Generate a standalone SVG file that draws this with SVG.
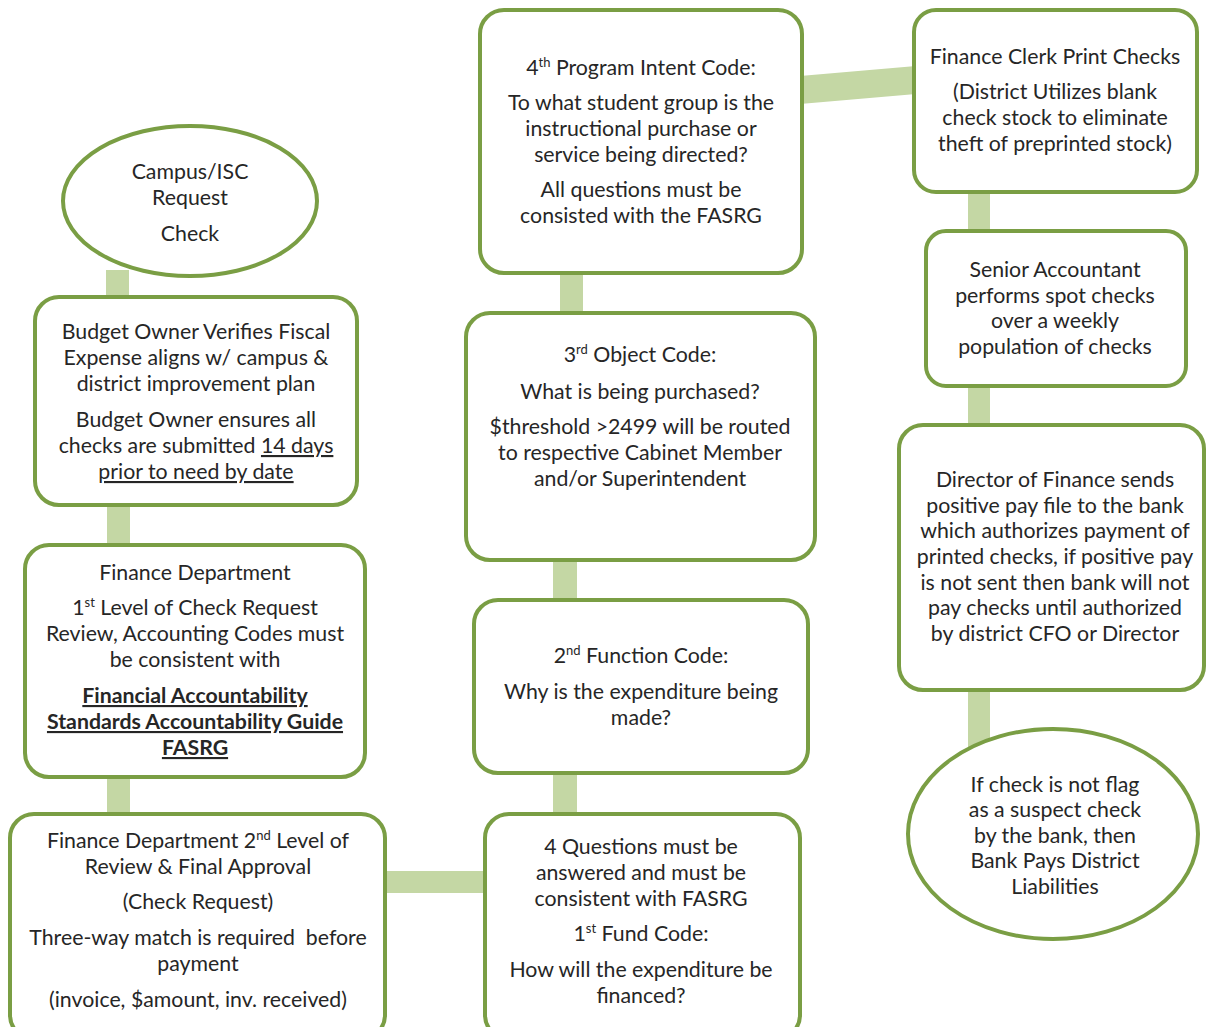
<svg xmlns="http://www.w3.org/2000/svg" width="1206" height="1027" viewBox="0 0 1206 1027">
<style>
.n{fill:#fff;stroke:#7a9e44;stroke-width:4}
.c{fill:#c4d7a4;stroke:none}
text{font-family:Lato,"Open Sans","Liberation Sans",sans-serif;font-size:21.3px;fill:#262626;text-anchor:middle}
.u{text-decoration:underline}
.b{font-weight:bold}
.s{font-size:13px}
</style>
<rect width="1206" height="1027" fill="#fff"/>
<g id="connectors">
<rect class="c" x="106" y="270" width="23" height="30"/>
<rect class="c" x="107" y="503" width="23" height="44"/>
<rect class="c" x="107" y="775" width="23" height="41"/>
<rect class="c" x="383" y="871" width="104" height="22"/>
<rect class="c" x="553" y="771" width="24" height="45"/>
<rect class="c" x="553" y="558" width="24" height="44"/>
<rect class="c" x="560" y="271" width="23" height="44"/>
<polygon class="c" points="800,76 916,66 916,94 800,104"/>
<rect class="c" x="968" y="190" width="22" height="43"/>
<rect class="c" x="968" y="384" width="22" height="43"/>
<rect class="c" x="968" y="688" width="22" height="60"/>
</g>
<g id="n1">
<ellipse class="n" cx="190" cy="201" rx="127" ry="75"/>
<text x="190" y="179">Campus/ISC</text>
<text x="190" y="205">Request</text>
<text x="190" y="241">Check</text>
</g>
<g id="n2">
<rect class="n" x="35" y="297" width="322" height="208" rx="24"/>
<text x="196" y="339">Budget Owner Verifies Fiscal</text>
<text x="196" y="365">Expense aligns w/ campus &amp;</text>
<text x="196" y="391">district improvement plan</text>
<text x="196" y="427">Budget Owner ensures all</text>
<text x="196" y="453">checks are submitted <tspan class="u">14 days</tspan></text>
<text x="196" y="479" class="u">prior to need by date</text>
</g>
<g id="n3">
<rect class="n" x="25" y="545" width="340" height="232" rx="24"/>
<text x="195" y="580">Finance Department</text>
<text x="195" y="615">1<tspan class="s" dy="-8">st</tspan><tspan dy="8"> Level of Check Request</tspan></text>
<text x="195" y="641">Review, Accounting Codes must</text>
<text x="195" y="667">be consistent with</text>
<text x="195" y="703" class="b u">Financial Accountability</text>
<text x="195" y="729" class="b u">Standards Accountability Guide</text>
<text x="195" y="755" class="b u">FASRG</text>
</g>
<g id="n4">
<rect class="n" x="10" y="814" width="375" height="225" rx="24"/>
<text x="198" y="848">Finance Department 2<tspan class="s" dy="-8">nd</tspan><tspan dy="8"> Level of</tspan></text>
<text x="198" y="874">Review &amp; Final Approval</text>
<text x="198" y="909">(Check Request)</text>
<text x="198" y="945">Three-way match is required&#160; before</text>
<text x="198" y="971">payment</text>
<text x="198" y="1007">(invoice, $amount, inv. received)</text>
</g>
<g id="n5">
<rect class="n" x="485" y="814" width="315" height="225" rx="24"/>
<text x="641" y="854">4 Questions must be</text>
<text x="641" y="880">answered and must be</text>
<text x="641" y="906">consistent with FASRG</text>
<text x="641" y="941">1<tspan class="s" dy="-8">st</tspan><tspan dy="8"> Fund Code:</tspan></text>
<text x="641" y="977">How will the expenditure be</text>
<text x="641" y="1003">financed?</text>
</g>
<g id="n6">
<rect class="n" x="474" y="600" width="334" height="173" rx="24"/>
<text x="641" y="663">2<tspan class="s" dy="-8">nd</tspan><tspan dy="8"> Function Code:</tspan></text>
<text x="641" y="699">Why is the expenditure being</text>
<text x="641" y="725">made?</text>
</g>
<g id="n7">
<rect class="n" x="466" y="313" width="349" height="247" rx="24"/>
<text x="640" y="362">3<tspan class="s" dy="-8">rd</tspan><tspan dy="8"> Object Code:</tspan></text>
<text x="640" y="399">What is being purchased?</text>
<text x="640" y="434">$threshold &gt;2499 will be routed</text>
<text x="640" y="460">to respective Cabinet Member</text>
<text x="640" y="486">and/or Superintendent</text>
</g>
<g id="n8">
<rect class="n" x="480" y="10" width="322" height="263" rx="24"/>
<text x="641" y="75">4<tspan class="s" dy="-8">th</tspan><tspan dy="8"> Program Intent Code:</tspan></text>
<text x="641" y="110">To what student group is the</text>
<text x="641" y="136">instructional purchase or</text>
<text x="641" y="162">service being directed?</text>
<text x="641" y="197">All questions must be</text>
<text x="641" y="223">consisted with the FASRG</text>
</g>
<g id="n9">
<rect class="n" x="914" y="10" width="283" height="182" rx="22"/>
<text x="1055" y="64">Finance Clerk Print Checks</text>
<text x="1055" y="99">(District Utilizes blank</text>
<text x="1055" y="125">check stock to eliminate</text>
<text x="1055" y="151">theft of preprinted stock)</text>
</g>
<g id="n10">
<rect class="n" x="926" y="231" width="260" height="155" rx="20"/>
<text x="1055" y="277">Senior Accountant</text>
<text x="1055" y="303">performs spot checks</text>
<text x="1055" y="328">over a weekly</text>
<text x="1055" y="354">population of checks</text>
</g>
<g id="n11">
<rect class="n" x="899" y="425" width="305" height="265" rx="24"/>
<text x="1055" y="487">Director of Finance sends</text>
<text x="1055" y="513">positive pay file to the bank</text>
<text x="1055" y="538">which authorizes payment of</text>
<text x="1055" y="564">printed checks, if positive pay</text>
<text x="1055" y="590">is not sent then bank will not</text>
<text x="1055" y="615">pay checks until authorized</text>
<text x="1055" y="641">by district CFO or Director</text>
</g>
<g id="n12">
<ellipse class="n" cx="1053" cy="834" rx="145" ry="105"/>
<text x="1055" y="792">If check is not flag</text>
<text x="1055" y="817">as a suspect check</text>
<text x="1055" y="843">by the bank, then</text>
<text x="1055" y="868">Bank Pays District</text>
<text x="1055" y="894">Liabilities</text>
</g>
</svg>
